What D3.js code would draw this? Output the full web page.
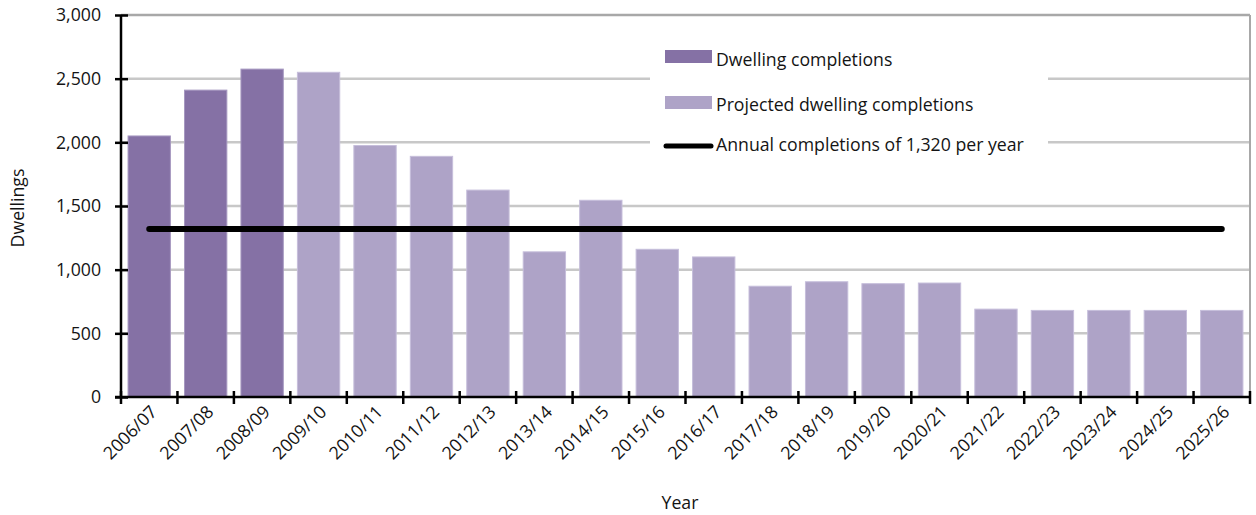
<!DOCTYPE html>
<html><head><meta charset="utf-8">
<script src="https://cdn.jsdelivr.net/npm/d3@7"></script>
<style>
body{margin:0;background:#fff;}
svg text{font-family:"Open Sans",sans-serif;fill:#141414;font-weight:500;}
</style></head>
<body><svg id="c" width="1256" height="515"></svg>
<script>
const categories = ["2006/07","2007/08","2008/09","2009/10","2010/11","2011/12","2012/13","2013/14","2014/15","2015/16","2016/17","2017/18","2018/19","2019/20","2020/21","2021/22","2022/23","2023/24","2024/25","2025/26"];
const completions = [2050,2410,2575,2550,1975,1890,1625,1140,1545,1160,1100,870,905,890,895,690,680,680,680,680];
const projected = [false,false,false,true,true,true,true,true,true,true,true,true,true,true,true,true,true,true,true,true];
const annualTarget = 1320;
const yTicks = [0,500,1000,1500,2000,2500,3000];
const legendLabels = ["Dwelling completions","Projected dwelling completions","Annual completions of 1,320 per year"];

const svg = d3.select("#c");
const L=121, R=1250, T=15, B=397;
const FS=17.7;
const x = d3.scaleBand().domain(categories).range([L,R]).paddingInner(0.25).paddingOuter(0.125);
const y = d3.scaleLinear().domain([0,3000]).range([B,T]);
const fmt = d3.format(",");
const dark="#8571a5", light="#aea3c7";

// gridlines
svg.append("g").selectAll("line").data(yTicks.filter(d=>d>0)).join("line")
  .attr("x1",L).attr("x2",R).attr("y1",d=>y(d)).attr("y2",d=>y(d))
  .attr("stroke",d=>d===3000?"#a8a8a8":"#c8c8c8").attr("stroke-width",2.5);
// right border
svg.append("line").attr("x1",R).attr("x2",R).attr("y1",T).attr("y2",B).attr("stroke","#a8a8a8").attr("stroke-width",2);

// legend background
svg.append("rect").attr("x",650).attr("y",40).attr("width",398).attr("height",122).attr("fill","#fff");

// bars
svg.append("g").selectAll("rect").data(categories).join("rect")
  .attr("x",d=>x(d)).attr("width",x.bandwidth())
  .attr("y",(d,i)=>y(completions[i])).attr("height",(d,i)=>B-y(completions[i]))
  .attr("fill",(d,i)=>projected[i]?light:dark)
  .attr("stroke",(d,i)=>projected[i]?"#c6bedb":"#a698c0").attr("stroke-width",1);

// target line
svg.append("line")
  .attr("x1",x(categories[0])+x.bandwidth()/2).attr("x2",x(categories[categories.length-1])+x.bandwidth()/2)
  .attr("y1",y(annualTarget)).attr("y2",y(annualTarget))
  .attr("stroke","#000").attr("stroke-width",6).attr("stroke-linecap","round");

// y axis
const ya = svg.append("g").attr("transform",`translate(${L},0)`)
  .call(d3.axisLeft(y).tickValues(yTicks).tickFormat(fmt).tickSize(6).tickPadding(14));
ya.select(".domain").attr("stroke","#000").attr("stroke-width",2.5).attr("d",`M0,${T}V${B}`);
ya.selectAll(".tick line").attr("x1",-6).attr("x2",7).attr("stroke","#000").attr("stroke-width",2.5);
ya.selectAll(".tick text").attr("font-size",FS).attr("font-family","'Open Sans',sans-serif").attr("font-weight",500).attr("fill","#141414");

// x axis
const xTickPos = categories.map(c=>x(c)-x.step()*x.paddingInner()/2).concat([R]);
const xa = svg.append("g");
xa.append("line").attr("x1",L-6).attr("x2",R).attr("y1",B).attr("y2",B).attr("stroke","#000").attr("stroke-width",2.5);
xa.selectAll("line.t").data(xTickPos).join("line").attr("class","t")
  .attr("x1",d=>d).attr("x2",d=>d).attr("y1",B-6).attr("y2",B+7).attr("stroke","#000").attr("stroke-width",2.5);
xa.selectAll("text").data(categories).join("text")
  .attr("transform",d=>`translate(${x(d)+x.bandwidth()/2+9},${B+16}) rotate(-45)`)
  .attr("text-anchor","end").attr("font-size",FS).text(d=>d);

// axis titles
svg.append("text").attr("x",680).attr("y",509).attr("text-anchor","middle").attr("font-size",FS).text("Year");
svg.append("text").attr("transform",`translate(24,${(T+B)/2 + 2}) rotate(-90)`).attr("text-anchor","middle").attr("font-size",FS).text("Dwellings");

// legend
const lg = svg.append("g");
lg.append("rect").attr("x",665).attr("y",50).attr("width",47).attr("height",13).attr("fill",dark);
lg.append("rect").attr("x",665).attr("y",96).attr("width",47).attr("height",13).attr("fill",light);
lg.append("line").attr("x1",666).attr("x2",711).attr("y1",146).attr("y2",146).attr("stroke","#000").attr("stroke-width",5).attr("stroke-linecap","round");
[ [66,0],[111,1],[151,2] ].forEach(([yy,i])=>{
  lg.append("text").attr("x",716).attr("y",yy).attr("font-size",FS).text(legendLabels[i]);
});
</script></body></html>
